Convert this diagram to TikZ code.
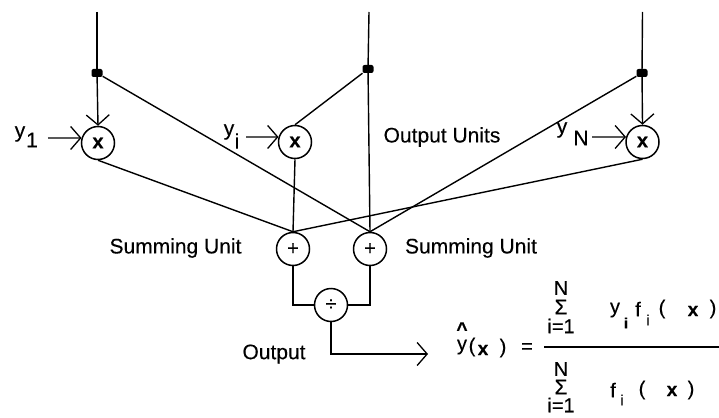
\documentclass[tikz,border=0pt]{standalone}
\usepackage{fontspec}
\setmainfont[FakeBold=0.3]{Liberation Sans}
\usetikzlibrary{arrows.meta}
\tikzset{
 unit/.style={circle,draw,line width=1.5pt,minimum size=33pt,inner sep=0pt,font=\fontsize{20}{20}\selectfont,fill=white},
 junction/.style={rectangle,rounded corners=2pt,fill=black,minimum width=11pt,minimum height=8pt,inner sep=0pt},
 wire/.style={line width=1.4pt},
 feed/.style={wire,-{Straight Barb[length=10pt,width=23pt,line width=1.3pt]}},
 lab/.style={inner sep=0pt,font=\fontsize{21}{21}\selectfont},
 eq/.style={inner sep=0pt,font=\fontsize{20}{20}\selectfont},
 eqb/.style={inner sep=0pt,font=\fontsize{19}{19}\selectfont\bfseries},
 eqs/.style={inner sep=0pt,font=\fontsize{15}{15}\selectfont},
 eqS/.style={inner sep=0pt,font=\fontsize{21}{21}\selectfont},
}
\begin{document}
\begin{tikzpicture}[x=1pt,y=-1pt]
\useasboundingbox (0,0) rectangle (719,417);
% units
\node[unit] (m1) at (98,143) {\textbf{x}};
\node[unit] (mi) at (295,142) {\textbf{x}};
\node[unit] (mN) at (642.5,142) {\textbf{x}};
\node[unit] (s1) at (293,249) {+};
\node[unit] (s2) at (370,249) {+};
\node[unit] (dv) at (331,305) {÷};
% free ends and junctions
\coordinate (t1) at (97,12);
\coordinate (t2) at (369,12);
\coordinate (t3) at (642.5,12);
\node[junction] (j1) at (97,73) {};
\node[junction] (j2) at (368,69) {};
\node[junction] (j3) at (642,73) {};
\coordinate (in1) at (48,138);
\coordinate (ini) at (246,137);
\coordinate (inN) at (592,137);
\coordinate (out) at (428,354);
% connectors
\draw[wire] (t1) -- (j1);
\draw[feed] (j1) -- (m1.north);
\draw[wire] (t2) -- (j2);
\draw[wire] (j2) -- (s2.north);
\draw[wire] (j2) -- (mi.north);
\draw[wire] (t3) -- (j3);
\draw[feed] (j3) -- (mN.north);
\draw[feed] (in1) -- (m1.163);
\draw[feed] (ini) -- (mi.163);
\draw[feed] (inN) -- (mN.163);
\draw[wire] (j1) -- (s2.north);
\draw[wire] (j3) -- (s2.north);
\draw[wire] (m1.south) -- (s1.north);
\draw[wire] (mi.south) -- (s1.north);
\draw[wire] (mN.south) -- (s1.north);
\draw[wire] (s1.south) |- (dv.west);
\draw[wire] (s2.south) |- (dv.east);
\draw[feed] (dv.south) |- (out);
% labels
\node[lab] (ly1) at (20,134) {y};
\node[lab] (ln1) at (32,140) {1};
\node[lab] (lyi) at (229,132) {y};
\node[lab] (lni) at (237,141) {i};
\node[lab] (lyN) at (562,130) {y};
\node[lab] (lnN) at (581,138) {N};
\node[lab] (lou) at (442,137) {Output Units};
\node[lab] (lsa) at (175.5,248) {Summing Unit};
\node[lab] (lsb) at (471,248) {Summing Unit};
\node[lab] (lo) at (274,354) {Output};
% formula
\node[eq] (yh) at (462,347) {y};
\node[eqb] (hat) at (462,329) {\textasciicircum};
\node[eq] (pa) at (472,347) {(};
\node[eqb] (xa) at (483,350) {x};
\node[eq] (pb) at (503,348) {)};
\node[eq] (equ) at (527,348) {=};
\coordinate (fl) at (544,347);
\coordinate (fr) at (719,347);
\draw[wire] (fl) -- (fr);
\node[eq] (n1) at (561,288) {N};
\node[eqS] (s3) at (561,307) {Σ};
\node[eq] (i1) at (561,326) {i=1};
\node[eq] (y2) at (615,310) {y};
\node[eqs] (i2) at (626,323) {\textbf{i}};
\node[eq] (f2) at (638,309) {f};
\node[eqs] (i3) at (648,320) {i};
\node[eq] (p2) at (662,309) {(};
\node[eqb] (x2) at (693,311) {x};
\node[eq] (q2) at (713,309) {)};
\node[eq] (n2) at (561,369) {N};
\node[eqS] (s4) at (561,387) {Σ};
\node[eq] (i4) at (561,405) {i=1};
\node[eq] (f3) at (613,390) {f};
\node[eqs] (i5) at (622,400) {i};
\node[eq] (p3) at (642,390) {(};
\node[eqb] (x3) at (672,391) {x};
\node[eq] (q3) at (691,390) {)};
\end{tikzpicture}
\end{document}
